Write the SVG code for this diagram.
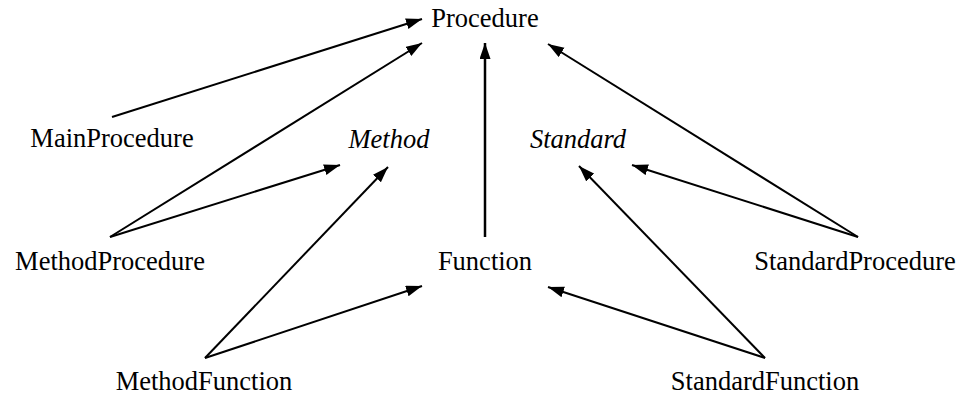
<svg xmlns="http://www.w3.org/2000/svg" width="963" height="398" viewBox="0 0 963 398">
  <style>
    .label { font-size: 26.5px; fill: #000; text-anchor: middle; }
    .abstract { font-style: italic; }
    .edge { stroke: #000; stroke-width: 2; fill: none; marker-end: url(#head); }
  </style>
  <defs>
    <marker id="head" markerUnits="userSpaceOnUse" markerWidth="17" markerHeight="12" refX="16" refY="5.5" orient="auto">
      <path d="M0,0 L16,5.5 L0,11 z" fill="#000"/>
    </marker>
  </defs>
  <rect width="963" height="398" fill="#fff"/>

  <!-- inheritance edges: child -> parent -->
  <g id="connectors">
    <line class="edge" x1="112" y1="117" x2="422" y2="19"/>
    <line class="edge" x1="110" y1="237" x2="422" y2="43"/>
    <line class="edge" x1="110" y1="237" x2="340" y2="165"/>
    <line class="edge" x1="205" y1="358" x2="388" y2="167"/>
    <line class="edge" x1="205" y1="358" x2="422" y2="286"/>
    <line class="edge" x1="485" y1="237" x2="485" y2="43" style="stroke-width:2.5"/>
    <line class="edge" x1="858" y1="237" x2="548" y2="44"/>
    <line class="edge" x1="858" y1="237" x2="632" y2="165"/>
    <line class="edge" x1="765" y1="358" x2="579" y2="166"/>
    <line class="edge" x1="765" y1="358" x2="548" y2="287"/>
  </g>

  <g id="nodes" font-family="Liberation Serif">
    <g id="Procedure"><text class="label" x="485" y="27">Procedure</text></g>
    <g id="MainProcedure"><text class="label" x="112" y="147">MainProcedure</text></g>
    <g id="Method"><text class="label abstract" x="389" y="148">Method</text></g>
    <g id="Standard"><text class="label abstract" x="578" y="148">Standard</text></g>
    <g id="MethodProcedure"><text class="label" x="110" y="270">MethodProcedure</text></g>
    <g id="Function"><text class="label" x="485" y="270">Function</text></g>
    <g id="StandardProcedure"><text class="label" x="855" y="270">StandardProcedure</text></g>
    <g id="MethodFunction"><text class="label" x="204" y="390">MethodFunction</text></g>
    <g id="StandardFunction"><text class="label" x="765" y="390">StandardFunction</text></g>
  </g>
</svg>
